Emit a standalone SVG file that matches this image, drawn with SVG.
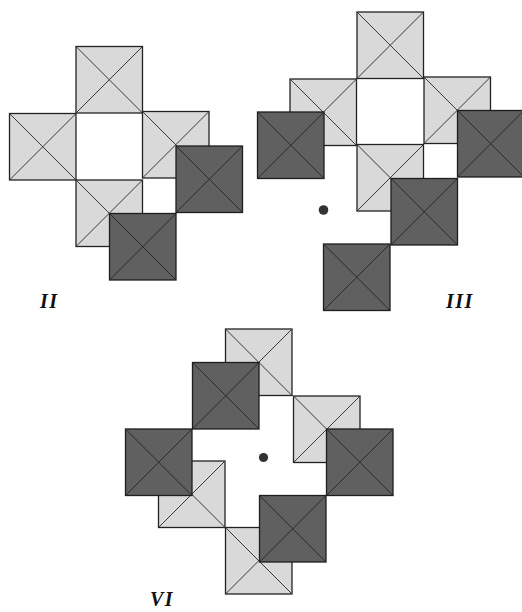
<svg xmlns="http://www.w3.org/2000/svg" xmlns:xlink="http://www.w3.org/1999/xlink" width="522" height="612" viewBox="0 0 522 612">
<style>
.lbox{fill:#d9d9d9;stroke:#222;stroke-width:1.3}
.dbox{fill:#606060;stroke:#1e1e1e;stroke-width:1.3}
.lx{stroke:#3a3a3a;stroke-width:1}
.dx{stroke:#2a2a2a;stroke-width:1}
.dot{fill:#333}
.lbl{font-family:"Liberation Serif","DejaVu Serif",serif;font-weight:bold;font-style:italic;font-size:20px;fill:#111;letter-spacing:1.5px}
</style>
<defs>
<g id="L">
<rect class="lbox" x="0" y="0" width="66.5" height="66.5"/>
<line class="lx" x1="0" y1="0" x2="66.5" y2="66.5"/>
<line class="lx" x1="66.5" y1="0" x2="0" y2="66.5"/>
</g>
<g id="D">
<rect class="dbox" x="0" y="0" width="66.5" height="66.5"/>
<line class="dx" x1="0" y1="0" x2="66.5" y2="66.5"/>
<line class="dx" x1="66.5" y1="0" x2="0" y2="66.5"/>
</g>
</defs>
<rect width="522" height="612" fill="#fff"/>

<!-- Figure II -->
<g id="II-top"><use xlink:href="#L" x="76" y="46.5"/></g>
<g id="II-left"><use xlink:href="#L" x="9.5" y="113.5"/></g>
<g id="II-right"><use xlink:href="#L" x="142.5" y="111.5"/></g>
<g id="II-bottom"><use xlink:href="#L" x="76" y="180"/></g>
<g id="II-dark-right"><use xlink:href="#D" x="176" y="146"/></g>
<g id="II-dark-bottom"><use xlink:href="#D" x="109.5" y="213.5"/></g>
<g id="II-label"><text class="lbl" x="40" y="308">II</text></g>

<!-- Figure III -->
<g id="III-top"><use xlink:href="#L" x="357" y="12"/></g>
<g id="III-left"><use xlink:href="#L" x="290" y="79"/></g>
<g id="III-right"><use xlink:href="#L" x="424" y="77"/></g>
<g id="III-bottom"><use xlink:href="#L" x="357" y="144.5"/></g>
<g id="III-dark-left"><use xlink:href="#D" x="257.5" y="112"/></g>
<g id="III-dark-right"><use xlink:href="#D" x="457.5" y="110.5"/></g>
<g id="III-dark-mid"><use xlink:href="#D" x="391" y="178.5"/></g>
<g id="III-dark-low"><use xlink:href="#D" x="323.5" y="244"/></g>
<g id="III-dot"><circle class="dot" cx="323.5" cy="210" r="4.8"/></g>
<g id="III-label"><text class="lbl" x="446" y="308">III</text></g>

<!-- Figure VI -->
<g id="VI-top"><use xlink:href="#L" x="225.5" y="329"/></g>
<g id="VI-right-top"><use xlink:href="#L" x="293.5" y="396"/></g>
<g id="VI-left-bottom"><use xlink:href="#L" x="158.5" y="461"/></g>
<g id="VI-bottom"><use xlink:href="#L" x="225.5" y="527.5"/></g>
<g id="VI-dark-topleft"><use xlink:href="#D" x="192.5" y="362.5"/></g>
<g id="VI-dark-left"><use xlink:href="#D" x="125.5" y="429"/></g>
<g id="VI-dark-right"><use xlink:href="#D" x="326.5" y="429"/></g>
<g id="VI-dark-bottom"><use xlink:href="#D" x="259.5" y="495.5"/></g>
<g id="VI-dot"><circle class="dot" cx="263.5" cy="457.5" r="4.6"/></g>
<g id="VI-label"><text class="lbl" x="150" y="606">VI</text></g>
</svg>
